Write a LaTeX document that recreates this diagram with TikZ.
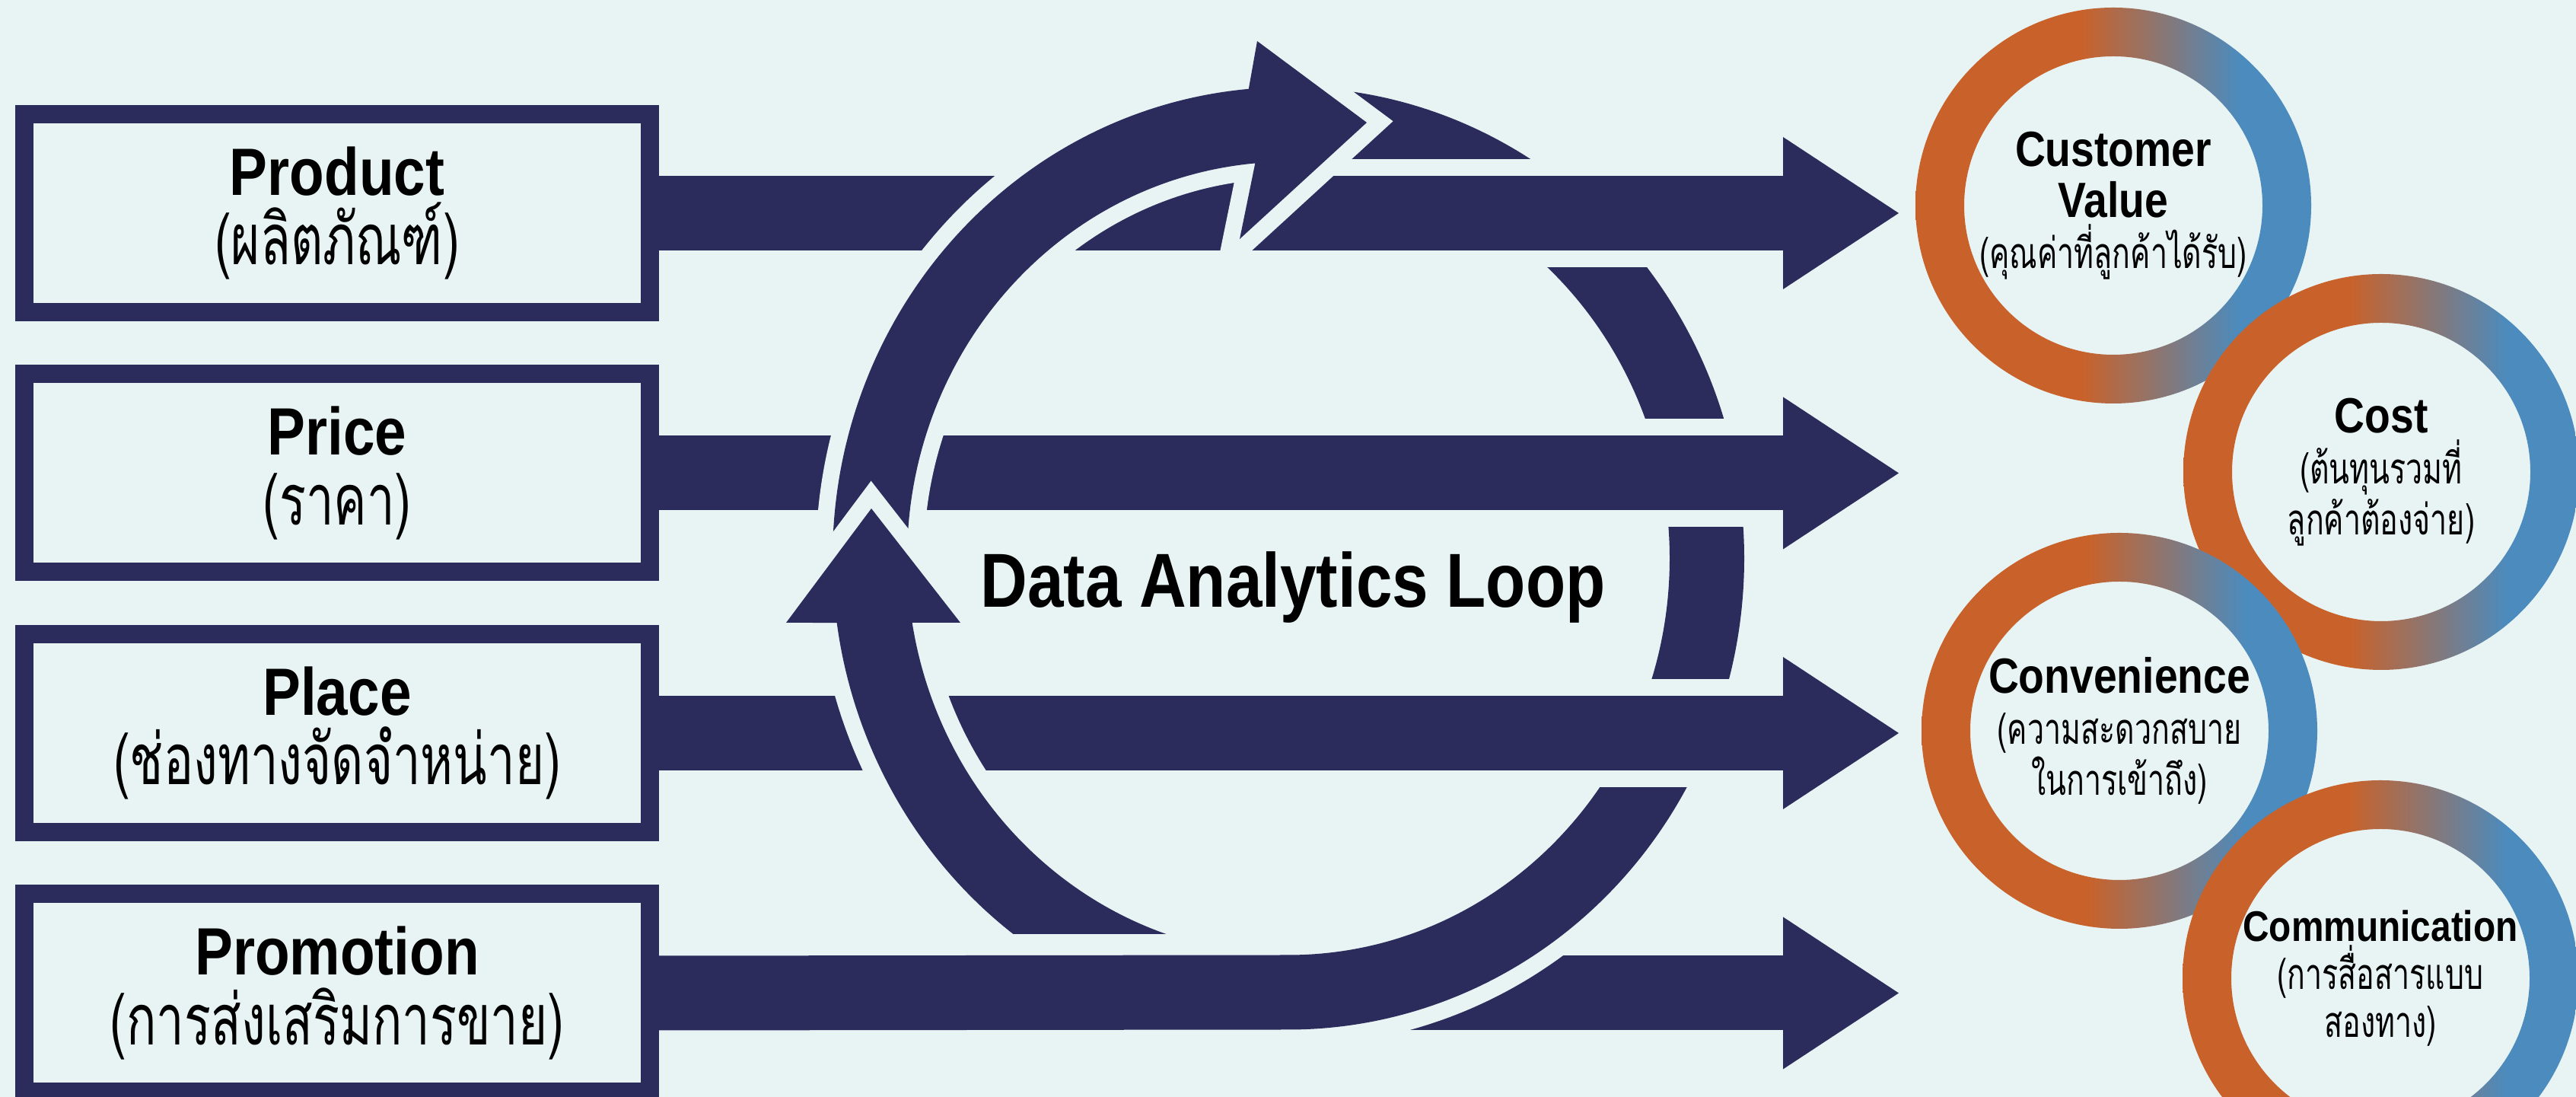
\documentclass[tikz,border=0pt]{standalone}
\usepackage{fontspec}
\setmainfont{Liberation Sans}[FakeStretch=0.85]
\newfontfamily\thaifont[Script=Thai,FakeStretch=0.7]{Loma}
\usetikzlibrary{arrows.meta,positioning}

\definecolor{bg}{HTML}{E8F4F4}
\definecolor{navy}{HTML}{2B2B5C}
\definecolor{ringorange}{HTML}{C9622A}
\definecolor{ringblue}{HTML}{4B8BBE}
\pgfdeclarehorizontalshading{ringshade}{100bp}{color(0bp)=(ringorange);
  color(25bp)=(ringorange); color(46bp)=(ringorange); color(66bp)=(ringblue);
  color(75bp)=(ringblue); color(100bp)=(ringblue)}

\pgfdeclarelayer{front}
\pgfsetlayers{main,front}

\newcommand\thaibig[1]{{\thaifont\mdseries\fontsize{26.5}{26}\selectfont #1}}
\newcommand\thaismall[1]{{\thaifont\mdseries\fontsize{16}{17}\selectfont #1}}
\lineskiplimit=-100pt

\begin{document}
\begin{tikzpicture}[
  box/.style={draw=navy, line width=0.24cm, fill=bg, minimum width=8.22cm,
              minimum height=2.6cm, inner sep=0pt, align=center,
              font=\bfseries\fontsize{25}{26}\selectfont},
  shaft/.style={navy, line width=0.98cm,
                -{Triangle[length=1.52cm, width=2cm, line width=0pt]}},
  halo/.style={preaction={draw=bg, line width=1.42cm, arrows=-}},
  loopband/.style={fill=navy, preaction={draw=bg, line width=0.44cm, line join=miter}},
  ringnode/.style={circle, minimum size=3.9cm, inner sep=0pt, align=center,
                   font=\bfseries\fontsize{18.5}{19}\selectfont},
]
\fill[bg] (0,0) rectangle (33.85,14.41);
\useasboundingbox (0,0) rectangle (33.85,14.41);

% the four P's
\begin{pgfonlayer}{front}
\node[box] (prod) at (4.43,11.61) {Product\\\thaibig{(ผลิตภัณฑ์)}};
\node[box, below=0.575cm of prod] (price) {Price\\\thaibig{(ราคา)}};
\node[box, below=0.575cm of price] (place) {Place\\\thaibig{(ช่องทางจัดจำหน่าย)}};
\node[box, below=0.575cm of place] (promo) {Promotion\\\thaibig{(การส่งเสริมการขาย)}};
\end{pgfonlayer}

\coordinate[right=16.29cm of prod.east] (t1);
\coordinate[right=16.29cm of price.east] (t2);
\coordinate[right=16.29cm of place.east] (t3);
\coordinate[right=16.29cm of promo.east] (t4);

\draw[shaft] (promo.east) -- (t4);

% loop: right half, running into the Promotion arrow
\begin{scope}[shift={(16.93,7.075)}]
\path[loopband] (95:5.99 and 6.19)
  arc[start angle=95, end angle=-90, x radius=5.99, y radius=6.19]
  -- ([yshift=-0.49cm]promo.east) -- ([yshift=0.49cm]promo.east) -- (0,-5.21)
  arc[start angle=-90, end angle=95, x radius=5.01, y radius=5.21] -- cycle;
\end{scope}

\draw[shaft, halo] (prod.east) -- (t1);
\draw[shaft, halo] (price.east) -- (t2);
\draw[shaft, halo] (place.east) -- (t3);

\begin{scope}[shift={(16.93,7.075)}]
% upper arc with the top arrowhead
\path[loopband] (178:5.99 and 6.19)
  arc[start angle=178, end angle=95, x radius=5.99, y radius=6.19]
  -- (-0.41,6.795) -- (1.03,5.725) -- (-0.64,4.195) -- (95:5.01 and 5.21)
  arc[start angle=95, end angle=178, x radius=5.01, y radius=5.21] -- cycle;
% left arc with the up arrowhead
\path[loopband] (232.87:5.99 and 6.19)
  arc[start angle=232.87, end angle=187.85, x radius=5.99, y radius=6.19]
  -- (-6.6,-0.845) -- (-5.48,0.655) -- (-4.31,-0.845) -- (189.33:5.01 and 5.21)
  arc[start angle=189.33, end angle=251.3, x radius=5.01, y radius=5.21] -- cycle;
\end{scope}

\node[font=\bfseries\fontsize{28.6}{30}\selectfont, anchor=base] (loop) at (16.99,6.43)
  {Data Analytics Loop};

% the four C's
\node[ringnode] (cv) at (27.77,11.71) {Customer\\Value\\\thaismall{(คุณค่าที่ลูกค้าได้รับ)}};
\node[ringnode] (cost) at (31.29,8.21) {Cost\\\thaismall{(ต้นทุนรวมที่}\\\thaismall{ลูกค้าต้องจ่าย)}};
\node[ringnode] (conv) at (27.85,4.81) {Convenience\\\thaismall{(ความสะดวกสบาย}\\\thaismall{ในการเข้าถึง)}};
\node[ringnode, font=\bfseries\fontsize{16}{18}\selectfont] (comm)
  at (31.28,1.56) {Communication\\\thaismall{(การสื่อสารแบบ}\\\thaismall{สองทาง)}};
\foreach \c in {cv,cost,conv,comm}
  \shade[shading=ringshade, even odd rule]
    (\c.center) circle (2.6) (\c.center) circle (1.96);
\end{tikzpicture}
\end{document}
